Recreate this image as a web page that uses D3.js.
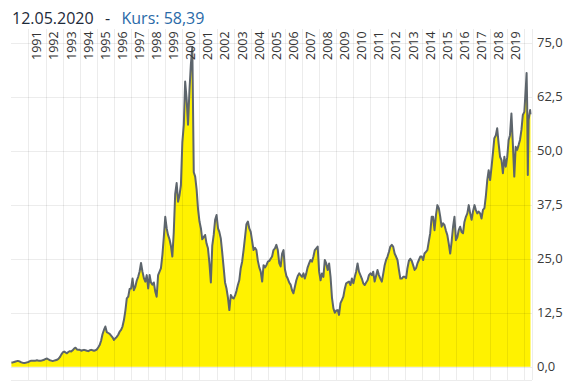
<!DOCTYPE html>
<html>
<head>
<meta charset="utf-8">
<script src="https://d3js.org/d3.v7.min.js"></script>
<style>
  body { margin: 0; background: #fff; }
  svg { display: block; font-family: "Open Sans", sans-serif; }
</style>
</head>
<body>
<div id="chartContainer"></div>
<script>

// kurs am monatsanfang, pro jahr (jan - dez)
var kurs1990 = [1.0, 1.0, 1.1, 1.2, 1.3, 1.3, 1.2, 1.0, 0.9, 0.85, 0.9, 1.0];
var kurs1991 = [1.1, 1.3, 1.4, 1.4, 1.4, 1.4, 1.5, 1.4, 1.4, 1.4, 1.5, 1.6];
var kurs1992 = [1.8, 1.9, 1.7, 1.5, 1.4, 1.3, 1.4, 1.5, 1.6, 1.8, 2.2, 2.8];
var kurs1993 = [3.3, 3.5, 3.3, 3.1, 3.4, 3.6, 3.5, 3.8, 4.2, 4.4, 4.0, 3.9];
var kurs1994 = [3.9, 3.7, 3.8, 3.9, 3.8, 3.7, 3.6, 3.8, 3.9, 3.8, 3.7, 3.8];
var kurs1995 = [4.0, 4.5, 5.0, 6.0, 7.5, 8.5, 9.3, 8.0, 7.8, 7.6, 7.2, 6.8];
var kurs1996 = [6.2, 6.6, 6.9, 7.4, 8.1, 8.5, 9.3, 10.8, 13.0, 15.8, 16.2, 18.0];
var kurs1997 = [18.1, 20.4, 17.7, 18.5, 19.9, 20.8, 22.0, 24.0, 22.0, 20.5, 19.7, 21.2];
var kurs1998 = [18.1, 21.2, 19.5, 19.0, 19.5, 17.4, 16.2, 21.2, 22.0, 22.8, 25.9, 30.0];
var kurs1999 = [34.7, 32.0, 30.5, 29.5, 28.0, 25.5, 31.0, 40.0, 42.5, 38.2, 39.7, 42.0];
var kurs2000 = [52.0, 56.0, 66.0, 62.0, 56.0, 64.0, 70.0, 74.0, 45.0, 44.0, 41.0, 36.5];
var kurs2001 = [33.6, 32.0, 29.5, 30.0, 30.5, 28.5, 27.4, 24.0, 19.5, 28.0, 30.5, 34.0];
var kurs2002 = [35.1, 32.0, 31.2, 29.7, 26.5, 23.0, 19.5, 18.1, 16.0, 13.1, 16.6, 16.0];
var kurs2003 = [15.8, 16.5, 17.5, 18.9, 20.0, 22.8, 24.3, 27.0, 30.0, 33.0, 33.6, 32.0];
var kurs2004 = [31.2, 29.0, 27.0, 27.5, 27.0, 24.5, 23.0, 22.0, 19.7, 23.5, 23.0, 23.5];
var kurs2005 = [24.3, 24.5, 25.0, 25.5, 27.0, 27.4, 28.2, 27.0, 24.0, 23.2, 26.2, 27.0];
var kurs2006 = [22.5, 21.0, 20.4, 19.5, 19.0, 17.7, 17.0, 18.5, 20.0, 21.0, 21.6, 21.2];
var kurs2007 = [20.8, 21.6, 20.4, 21.6, 23.0, 23.9, 24.7, 24.3, 25.5, 27.0, 27.4, 27.8];
var kurs2008 = [22.0, 20.0, 21.6, 20.8, 24.7, 23.9, 22.4, 23.9, 20.8, 16.0, 13.5, 12.5];
var kurs2009 = [13.0, 13.1, 12.0, 14.7, 15.4, 16.2, 18.0, 19.3, 19.5, 19.7, 18.9, 20.4];
var kurs2010 = [19.3, 20.8, 22.0, 23.9, 22.0, 21.2, 20.4, 19.3, 18.9, 19.5, 20.0, 21.2];
var kurs2011 = [21.6, 21.2, 22.0, 19.7, 21.0, 22.4, 21.2, 20.4, 19.7, 21.5, 23.5, 24.7];
var kurs2012 = [25.5, 26.6, 27.8, 28.2, 27.8, 26.2, 25.5, 24.7, 22.4, 20.4, 20.4, 20.8];
var kurs2013 = [20.8, 20.5, 22.8, 24.5, 25.0, 24.5, 23.5, 22.4, 22.8, 23.9, 24.7, 25.5];
var kurs2014 = [25.5, 24.7, 26.2, 26.6, 27.0, 29.0, 30.9, 34.7, 34.7, 31.6, 35.1, 37.4];
var kurs2015 = [36.7, 34.7, 32.4, 33.2, 32.8, 31.5, 30.5, 28.5, 26.2, 28.9, 32.4, 34.7];
var kurs2016 = [29.3, 30.0, 31.6, 32.4, 31.2, 30.9, 33.5, 34.7, 35.5, 37.4, 35.5, 34.0];
var kurs2017 = [36.0, 37.4, 36.3, 35.5, 35.9, 35.5, 34.3, 36.3, 36.7, 39.4, 43.2, 45.5];
var kurs2018 = [43.2, 46.3, 49.4, 52.9, 53.5, 55.2, 51.7, 48.6, 47.8, 44.8, 48.6, 46.3];
var kurs2019 = [48.5, 52.5, 53.6, 58.6, 51.7, 44.0, 50.9, 50.2, 51.3, 52.5, 54.8, 58.3];

// 2020 mit einzelnen tagen
var tage2020 = ["2020-01-02", "2020-02-03", "2020-02-19", "2020-03-02", "2020-03-16", "2020-04-01", "2020-05-04", "2020-05-12"];
var kurs2020 = [59.0, 64.8, 68.0, 61.0, 44.4, 57.1, 59.4, 58.39];

// beschriftungen
var jahre = [1991, 1992, 1993, 1994, 1995, 1996, 1997, 1998, 1999, 2000, 2001, 2002, 2003, 2004,
             2005, 2006, 2007, 2008, 2009, 2010, 2011, 2012, 2013, 2014, 2015, 2016, 2017, 2018, 2019];
var yWerte = [0, 12.5, 25, 37.5, 50, 62.5, 75];
var titelDatum = "12.05.2020";
var titelKurs = "Kurs: 58,39";

var breite = 572;
var hoehe = 387;

// alle jahre zu einer reihe zusammenfuegen
var monatsReihen = [kurs1990, kurs1991, kurs1992, kurs1993, kurs1994, kurs1995, kurs1996, kurs1997,
                    kurs1998, kurs1999, kurs2000, kurs2001, kurs2002, kurs2003, kurs2004, kurs2005,
                    kurs2006, kurs2007, kurs2008, kurs2009, kurs2010, kurs2011, kurs2012, kurs2013,
                    kurs2014, kurs2015, kurs2016, kurs2017, kurs2018, kurs2019];
var daten = [];
monatsReihen.forEach(function(reihe, j) {
  reihe.forEach(function(wert, m) {
    daten.push({datum: new Date(1990 + j, m, 1), kurs: wert});
  });
});
var parseTag = d3.timeParse("%Y-%m-%d");
tage2020.forEach(function(tag, i) {
  daten.push({datum: parseTag(tag), kurs: kurs2020[i]});
});

var svg = d3.select("#chartContainer")
            .append("svg")
            .attr("width", breite)
            .attr("height", hoehe);

// schalen
var x = d3.scaleTime()
          .domain([new Date(1990, 0, 1), new Date(2020, 0, 1)])
          .range([11.4, 524.3]);

var y = d3.scaleLinear()
          .domain([0, 75])
          .range([366.7, 42.7]);

var links = 11;
var rechts = 532;
var oben = 29;
var unten = 380;

// flaeche
var flaeche = d3.area()
                .x(function(d) { return x(d.datum); })
                .y0(y(0))
                .y1(function(d) { return y(d.kurs); });

svg.append("path")
   .datum(daten)
   .attr("d", flaeche)
   .attr("fill", "#fff200");

// raster (halbtransparent, damit es auf gelb durchscheint)
var raster = svg.append("g")
                .attr("stroke", "#000")
                .attr("stroke-opacity", 0.075)
                .attr("stroke-width", 1);

raster.selectAll(".hLinie")
      .data(yWerte)
      .enter()
      .append("line")
      .attr("class", "hLinie")
      .attr("x1", links)
      .attr("x2", rechts)
      .attr("y1", function(d) { return Math.round(y(d)) + 0.5; })
      .attr("y2", function(d) { return Math.round(y(d)) + 0.5; });

raster.append("line")
      .attr("x1", links)
      .attr("x2", rechts)
      .attr("y1", unten + 0.5)
      .attr("y2", unten + 0.5);

var jahresTicks = x.ticks(d3.timeYear.every(1)).filter(function(d) {
  return d.getFullYear() > 1990;
});

raster.selectAll(".vLinie")
      .data(jahresTicks)
      .enter()
      .append("line")
      .attr("class", "vLinie")
      .attr("x1", function(d) { return Math.round(x(d)) + 0.5; })
      .attr("x2", function(d) { return Math.round(x(d)) + 0.5; })
      .attr("y1", oben)
      .attr("y2", unten);

raster.append("line")
      .attr("x1", rechts + 0.5)
      .attr("x2", rechts + 0.5)
      .attr("y1", oben)
      .attr("y2", unten);

// kurslinie
var linie = d3.line()
              .x(function(d) { return x(d.datum); })
              .y(function(d) { return y(d.kurs); });

svg.append("path")
   .datum(daten)
   .attr("d", linie)
   .attr("fill", "none")
   .attr("stroke", "#5d656c")
   .attr("stroke-width", 2)
   .attr("stroke-linejoin", "round");

// jahreszahlen oben, gedreht
svg.selectAll(".jahr")
   .data(jahre)
   .enter()
   .append("text")
   .attr("class", "jahr")
   .attr("transform", function(d) {
     return "translate(" + x(new Date(d, 6, 1)) + "," + 60 + ") rotate(-90)";
   })
   .attr("dy", "0.35em")
   .attr("text-anchor", "start")
   .attr("font-size", "12.5px")
   .attr("fill", "#333")
   .text(function(d) { return d; });

// y-achse rechts
var formatKomma = d3.formatLocale({decimal: ",", thousands: ".", grouping: [3], currency: ["", "€"]}).format(".1f");

svg.selectAll(".yLabel")
   .data(yWerte)
   .enter()
   .append("text")
   .attr("class", "yLabel")
   .attr("x", 537)
   .attr("y", function(d) { return y(d); })
   .attr("dy", "0.35em")
   .attr("font-size", "13px")
   .attr("fill", "#3a3a3a")
   .text(function(d) { return formatKomma(d); });

// titel
var titel = svg.append("text")
               .attr("y", 24)
               .attr("font-size", "16px");

titel.append("tspan")
     .attr("x", 12)
     .attr("fill", "#1d2a3a")
     .text(titelDatum);

titel.append("tspan")
     .attr("x", 105)
     .attr("fill", "#1d2a3a")
     .text("-");

titel.append("tspan")
     .attr("x", 121.5)
     .attr("fill", "#2a6aa8")
     .text(titelKurs);

</script>
</body>
</html>
